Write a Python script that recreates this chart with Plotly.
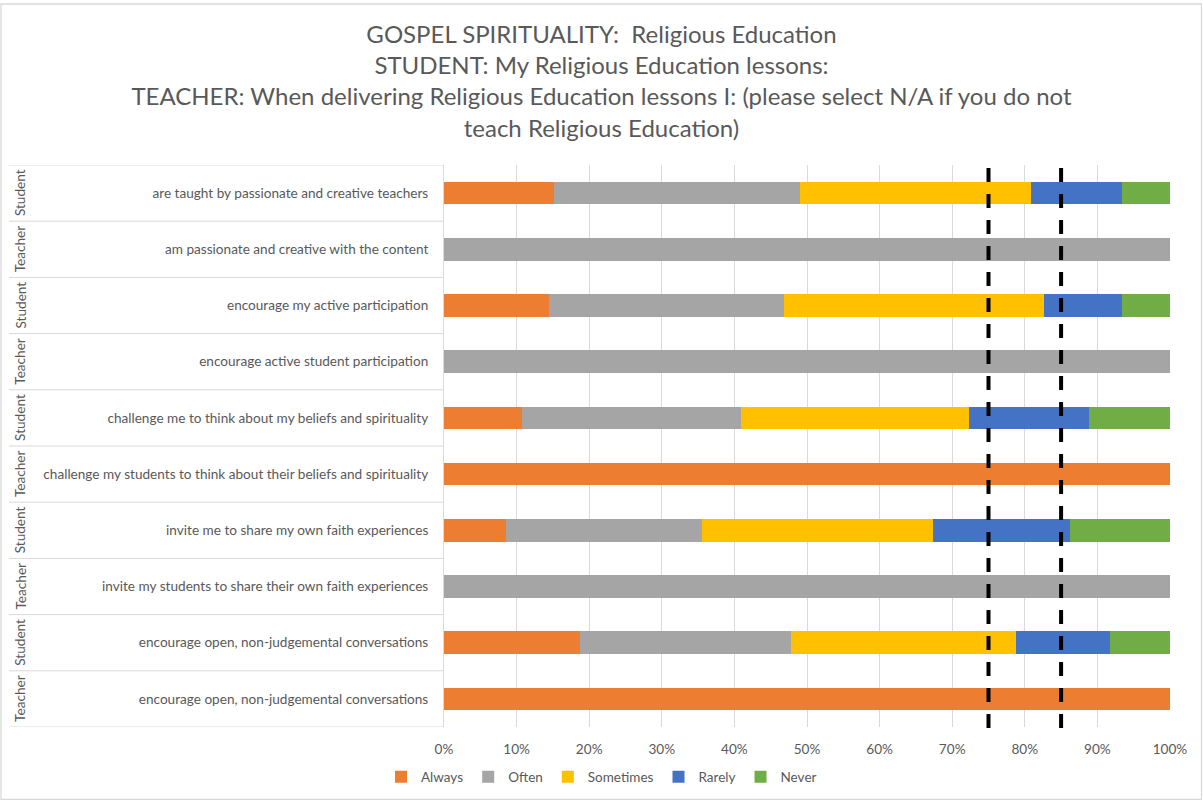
import plotly.graph_objects as go

# Survey items: respondent group and statement, top to bottom
groups = ["Student", "Teacher", "Student", "Teacher", "Student",
          "Teacher", "Student", "Teacher", "Student", "Teacher"]
statements = [
    "are taught by passionate and creative teachers",
    "am passionate and creative with the content",
    "encourage my active participation",
    "encourage active student participation",
    "challenge me to think about my beliefs and spirituality",
    "challenge my students to think about their beliefs and spirituality",
    "invite me to share my own faith experiences",
    "invite my students to share their own faith experiences",
    "encourage open, non-judgemental conversations",
    "encourage open, non-judgemental conversations",
]

# Response shares (%) per item
always    = [15.1, 0, 14.5, 0, 10.7, 100, 8.6, 0, 18.8, 100]
often     = [33.9, 100, 32.3, 100, 30.2, 0, 27.0, 100, 29.0, 0]
sometimes = [31.9, 0, 35.8, 0, 31.4, 0, 31.7, 0, 31.0, 0]
rarely    = [12.5, 0, 10.8, 0, 16.6, 0, 18.9, 0, 12.9, 0]
never     = [6.6, 0, 6.6, 0, 11.1, 0, 13.8, 0, 8.3, 0]

series_names = ["Always", "Often", "Sometimes", "Rarely", "Never"]
series_values = [always, often, sometimes, rarely, never]
series_colors = ["#ED7D31", "#A5A5A5", "#FFC000", "#4472C4", "#70AD47"]

# Benchmark reference lines (%)
benchmarks = [75, 85]

x_ticks = list(range(0, 101, 10))
x_tick_labels = [f"{v}%" for v in x_ticks]

title_lines = [
    "GOSPEL SPIRITUALITY:  Religious Education",
    "STUDENT: My Religious Education lessons:",
    "TEACHER: When delivering Religious Education lessons I: (please select N/A if you do not",
    "teach Religious Education)",
]

# Figure geometry (pixels)
W, H = 1203, 800
ML, MR, MT, MB = 444, 33, 165, 73
PW, PH = W - ML - MR, H - MT - MB


def px_x(p):
    return (p - ML) / PW


def px_y(p):
    return (H - MB - p) / PH


TEXT = "#595959"
GRID = "#D9D9D9"
FONT = "Lato"
LABEL_SIZE = 13.6

rows = list(range(len(statements)))

fig = go.Figure()
for name, vals, col in zip(series_names, series_values, series_colors):
    fig.add_trace(go.Bar(
        x=vals, y=rows, name=name, orientation="h",
        marker=dict(color=col, line=dict(width=0)),
        width=0.4,
    ))

shapes = []
# dashed benchmark lines
for b in benchmarks:
    shapes.append(dict(type="line", xref="x", yref="paper", x0=b, x1=b,
                       y0=px_y(H - MB + 1), y1=px_y(MT + 2),
                       line=dict(color="black", width=4, dash="14px,12px"),
                       layer="above"))
# row separators in the category label area
for i in range(len(statements) + 1):
    shapes.append(dict(type="line", xref="paper", yref="y",
                       x0=px_x(9), x1=0, y0=i - 0.5, y1=i - 0.5,
                       line=dict(color=GRID, width=1)))
# chart border
shapes.append(dict(type="rect", xref="paper", yref="paper",
                   x0=px_x(1), x1=px_x(1201.5), y0=px_y(799.5), y1=px_y(4),
                   line=dict(color=GRID, width=1.3), layer="below"))

annotations = []
for i, g in enumerate(groups):
    annotations.append(dict(xref="paper", yref="y", x=px_x(20), y=i,
                            text=g, textangle=-90, showarrow=False,
                            font=dict(family=FONT, size=LABEL_SIZE, color=TEXT),
                            xanchor="center", yanchor="middle"))

fig.update_layout(
    width=W, height=H,
    margin=dict(l=ML, r=MR, t=MT, b=MB, pad=0, autoexpand=False),
    paper_bgcolor="white", plot_bgcolor="white",
    barmode="stack",
    bargap=0.6,
    font=dict(family=FONT, color=TEXT, size=13),
    title=dict(text="<br>".join(title_lines), x=0.5, xanchor="center",
               xref="container", y=1 - 43 / H, yanchor="top",
               font=dict(family=FONT, size=24, color=TEXT)),
    xaxis=dict(range=[0, 100], tickvals=x_ticks, ticktext=x_tick_labels,
               showgrid=True, gridcolor=GRID, gridwidth=1, zeroline=False,
               showline=False, ticks="", ticklabelstandoff=12,
               tickfont=dict(size=LABEL_SIZE, color=TEXT),
               fixedrange=True),
    yaxis=dict(range=[len(statements) - 0.5, -0.5], tickvals=rows,
               ticktext=statements, showgrid=False, zeroline=False,
               showline=True, linecolor=GRID, linewidth=1, ticks="",
               ticklabelstandoff=12, tickfont=dict(size=LABEL_SIZE, color=TEXT),
               fixedrange=True),
    legend=dict(orientation="h", x=(W / 2 - ML) / PW, xanchor="center",
                y=px_y(777), yanchor="middle",
                font=dict(size=13.5, color=TEXT), traceorder="normal"),
    shapes=shapes,
    annotations=annotations,
)

fig.write_html("out.html")
